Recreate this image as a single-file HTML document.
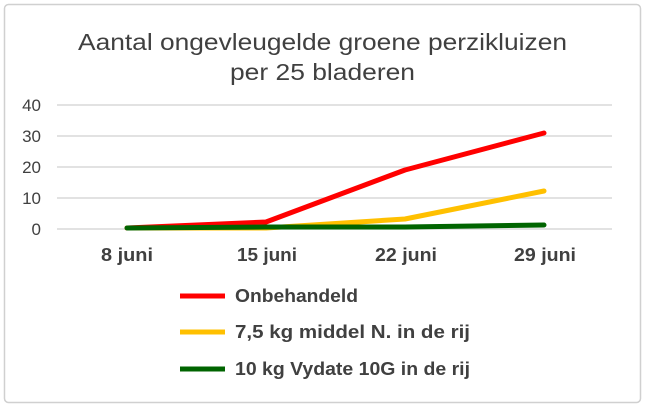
<!DOCTYPE html>
<html><head><meta charset="utf-8"><style>
body{margin:0;background:#fff}
svg{display:block;font-family:"Liberation Sans",sans-serif}
</style></head><body>
<svg width="645" height="407" viewBox="0 0 645 407">
<rect x="4.5" y="4.5" width="636" height="398" rx="4" fill="#fff" stroke="#d0d0d0" stroke-width="1.5"/>
<text x="78" y="50" font-size="23" fill="#404040" textLength="489" lengthAdjust="spacingAndGlyphs">Aantal ongevleugelde groene perzikluizen</text>
<text x="230" y="80" font-size="23" fill="#404040" textLength="185" lengthAdjust="spacingAndGlyphs">per 25 bladeren</text>
<g stroke="#d9d9d9" stroke-width="1.5">
<line x1="57" x2="612" y1="105" y2="105"/><line x1="57" x2="612" y1="136" y2="136"/><line x1="57" x2="612" y1="167" y2="167"/><line x1="57" x2="612" y1="198" y2="198"/><line x1="57" x2="612" y1="229" y2="229"/>
</g>
<g font-size="17" fill="#404040" text-anchor="end">
<text x="41" y="111">40</text><text x="41" y="142">30</text><text x="41" y="173">20</text><text x="41" y="204">10</text><text x="41" y="235">0</text>
</g>
<g font-size="18" font-weight="bold" fill="#404040">
<text x="101" y="261" textLength="52" lengthAdjust="spacingAndGlyphs">8 juni</text>
<text x="237" y="261" textLength="60" lengthAdjust="spacingAndGlyphs">15 juni</text>
<text x="375" y="261" textLength="62" lengthAdjust="spacingAndGlyphs">22 juni</text>
<text x="514" y="261" textLength="62" lengthAdjust="spacingAndGlyphs">29 juni</text>
</g>
<g fill="none" stroke-width="5" stroke-linejoin="round" stroke-linecap="round">
<polyline stroke="#ff0000" points="127,228 266,222 405,170 544,133"/>
<polyline stroke="#ffc000" points="127,228 266,228 405,219 544,191"/>
<polyline stroke="#006400" points="127,228 266,227 405,227 544,225"/>
</g>
<g stroke-width="5">
<line x1="180" x2="225" y1="296" y2="296" stroke="#ff0000"/>
<line x1="180" x2="225" y1="332" y2="332" stroke="#ffc000"/>
<line x1="180" x2="225" y1="369" y2="369" stroke="#006400"/>
</g>
<g font-size="18" font-weight="bold" fill="#404040">
<text x="235" y="302" textLength="123" lengthAdjust="spacingAndGlyphs">Onbehandeld</text>
<text x="235" y="338" textLength="235" lengthAdjust="spacingAndGlyphs">7,5 kg middel N. in de rij</text>
<text x="235" y="375" textLength="235" lengthAdjust="spacingAndGlyphs">10 kg Vydate 10G in de rij</text>
</g>
</svg>
</body></html>
